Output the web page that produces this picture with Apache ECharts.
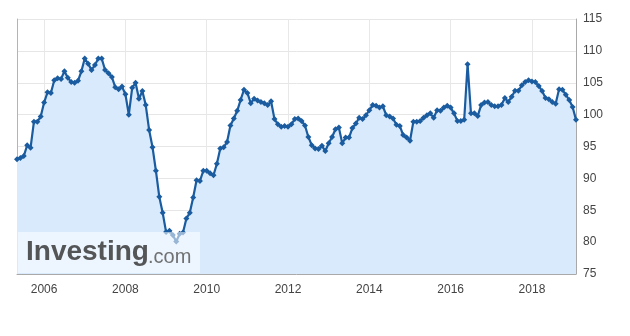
<!DOCTYPE html>
<html>
<head>
<meta charset="utf-8">
<script src="https://cdn.jsdelivr.net/npm/echarts@6/dist/echarts.min.js"></script>
<style>html,body{margin:0;padding:0;background:#fff}#c{width:630px;height:336px}</style>
</head>
<body>
<div id="c"></div>
<script>
// Monthly values, May 2005 .. Feb 2019
var START_YEAR = 2005, START_MONTH = 5;
var v2005 = [93.0, 93.2, 93.5, 95.2, 94.8, 98.9, 98.9, 99.7];
var v2006 = [101.9, 103.5, 103.4, 105.4, 105.7, 105.6, 106.8, 105.8, 105.1, 105.0, 105.3, 106.8];
var v2007 = [108.8, 108.0, 107.0, 107.8, 108.8, 108.8, 107.0, 106.5, 105.9, 104.3, 104.0, 104.4];
var v2008 = [103.2, 100.0, 104.2, 105.0, 102.5, 103.7, 101.5, 97.6, 94.9, 91.2, 87.1, 84.6];
var v2009 = [81.6, 81.8, 81.1, 80.1, 81.3, 81.5, 83.7, 84.6, 87.0, 89.7, 89.6, 91.2];
var v2010 = [91.2, 90.8, 90.5, 92.3, 94.7, 94.9, 95.7, 98.3, 99.4, 100.6, 102.3, 103.9];
var v2011 = [103.4, 101.8, 102.5, 102.2, 102.0, 101.8, 101.5, 102.1, 99.3, 98.5, 98.1, 98.2];
var v2012 = [98.1, 98.5, 99.3, 99.4, 99.0, 98.3, 96.5, 95.2, 94.7, 94.6, 95.1, 94.3];
var v2013 = [95.5, 96.5, 97.7, 98.0, 95.5, 96.4, 96.4, 97.9, 98.6, 99.5, 99.3, 99.9];
var v2014 = [100.7, 101.5, 101.4, 101.1, 101.3, 99.9, 99.7, 99.4, 98.4, 98.2, 96.8, 96.4];
var v2015 = [95.9, 98.9, 98.9, 99.0, 99.5, 99.9, 100.2, 99.5, 100.7, 100.6, 101.1, 101.4];
var v2016 = [101.1, 100.2, 99.0, 99.0, 99.2, 107.9, 100.2, 100.2, 99.8, 101.5, 101.9, 102.0];
var v2017 = [101.5, 101.3, 101.3, 101.5, 102.6, 102.0, 102.8, 103.75, 103.75, 104.6, 105.1, 105.4];
var v2018 = [105.2, 105.1, 104.5, 103.7, 102.6, 102.4, 102.0, 101.7, 104.0, 103.9, 103.1, 102.3];
var v2019 = [101.2, 99.2];
var yTicks = [75, 80, 85, 90, 95, 100, 105, 110, 115];

var values = [].concat(v2005, v2006, v2007, v2008, v2009, v2010, v2011, v2012,
                       v2013, v2014, v2015, v2016, v2017, v2018, v2019);
var months = [];
for (var k = 0; k < values.length; k++) {
  var m = START_MONTH - 1 + k;
  var yy = START_YEAR + Math.floor(m / 12), mm = (m % 12) + 1;
  months.push(yy + '-' + (mm < 10 ? '0' + mm : mm));
}
function isEvenJan(idx, val) {
  return val.slice(5) === '01' && (+val.slice(0, 4)) % 2 === 0;
}

var chart = echarts.init(document.getElementById('c'), null, {renderer: 'canvas'});
chart.setOption({
  animation: false,
  grid: {left: 17, right: 54, top: 19, bottom: 62},
  xAxis: {
    type: 'category',
    data: months,
    boundaryGap: false,
    axisLine: {show: true, lineStyle: {color: '#a9a9a9', width: 1}},
    axisTick: {show: false},
    axisLabel: {
      interval: isEvenJan,
      formatter: function (v) { return v.slice(0, 4); },
      color: '#444', fontSize: 12, fontFamily: 'Liberation Sans, Arial, sans-serif', margin: 10
    },
    splitLine: {show: true, interval: isEvenJan, lineStyle: {color: '#e8e8e8', width: 1}}
  },
  yAxis: [{
    type: 'value',
    position: 'right',
    min: yTicks[0], max: yTicks[yTicks.length - 1], interval: 5,
    axisLine: {show: true, lineStyle: {color: '#a9a9a9', width: 1}},
    axisTick: {show: false},
    axisLabel: {color: '#444', fontSize: 12, fontFamily: 'Liberation Sans, Arial, sans-serif', margin: 7},
    splitLine: {show: true, lineStyle: {color: '#e6e6e6', width: 1}}
  }, {
    type: 'value',
    position: 'left',
    min: yTicks[0], max: yTicks[yTicks.length - 1], interval: 5,
    axisLine: {show: true, lineStyle: {color: '#b4b4b4', width: 1}},
    axisTick: {show: false},
    axisLabel: {show: false},
    splitLine: {show: false}
  }],
  series: [{
    type: 'line',
    data: values,
    yAxisIndex: 0,
    symbol: 'diamond',
    symbolSize: 6,
    showSymbol: true,
    showAllSymbol: true,
    lineStyle: {color: '#1a5c9f', width: 2.2},
    itemStyle: {color: '#1a5c9f'},
    areaStyle: {color: '#d8eafc', opacity: 1},
    z: 2
  }],
  graphic: [{
    type: 'rect', z: 100, left: 18, top: 232,
    shape: {width: 182, height: 41},
    style: {fill: 'rgba(255,255,255,0.55)'}
  }, {
    type: 'text', z: 101, left: 26, top: 238,
    style: {text: 'Investing', font: 'bold 28px "Liberation Sans", Arial, sans-serif', fill: '#545557'}
  }, {
    type: 'text', z: 101, left: 148, top: 247,
    style: {text: '.com', font: '20px "Liberation Sans", Arial, sans-serif', fill: '#707173'}
  }]
});
</script>
</body>
</html>
